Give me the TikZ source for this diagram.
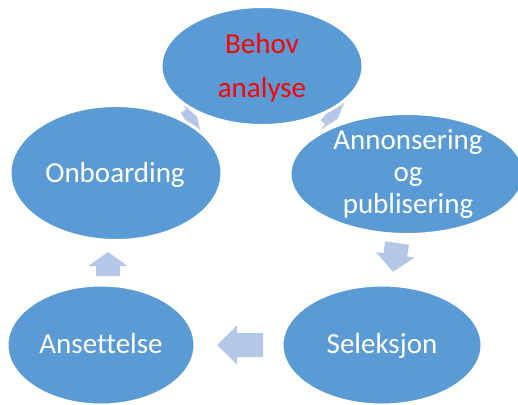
\documentclass[tikz,border=0pt]{standalone}
\usepackage{fontspec}
\setmainfont{Carlito}[Ligatures={NoCommon}]
\usetikzlibrary{shapes.geometric}
\definecolor{ellblue}{HTML}{5B9BD5}
\definecolor{arrblue}{HTML}{B4C7E7}
\definecolor{behovred}{HTML}{FF0000}
\tikzset{
  cyc/.style={ellipse, fill=ellblue, draw=white, line width=3pt, inner sep=0pt},
  lbl/.style={text=white, font=\fontsize{29}{32}\selectfont, align=center, inner sep=0pt, anchor=base},
  pics/blockarrow/.style 2 args={code={
    \fill[arrblue] (0,-12) -- ({#1-#2},-12) -- ({#1-#2},-19.5) -- (#1,0)
      -- ({#1-#2},19.5) -- ({#1-#2},12) -- (0,12) -- cycle;}}
}
\begin{document}
\begin{tikzpicture}[x=1pt,y=-1pt]
\useasboundingbox (0,0) rectangle (518,404);
% arrows (behind ellipses)
\pic[rotate=-40] (a1) at (328.4,111.1) {blockarrow={12}{6}};
\pic[rotate=-98] (a2) at (397,243) {blockarrow={29}{17}};
\pic[rotate=180] (a3) at (263,345) {blockarrow={46}{20}};
\pic[rotate=90]  (a4) at (108,276) {blockarrow={24}{14}};
\pic[rotate=30]  (a5) at (186.8,123) {blockarrow={12}{6}};
% ellipses
\node[cyc, minimum width=202pt, minimum height=119pt] (behov) at (262,66) {};
\node[cyc, minimum width=234pt, minimum height=121pt] (ann) at (407,174) {};
\node[cyc, minimum width=200pt, minimum height=120pt] (sel) at (382,345) {};
\node[cyc, minimum width=188pt, minimum height=120pt] (ans) at (101,345) {};
\node[cyc, minimum width=212pt, minimum height=135pt] (onb) at (116,173) {};
% labels
\node[lbl, text=behovred, font=\fontsize{29}{44}\selectfont] (tbehov) at (262,97) {Behov\\analyse};
\node[lbl] (tann) at (408,213) {Annonsering\\og\\publisering};
\node[lbl] (tsel) at (382,353) {Seleksjon};
\node[lbl] (tans) at (101,353) {Ansettelse};
\node[lbl] (tonb) at (115,182) {Onboarding};
\end{tikzpicture}
\end{document}
